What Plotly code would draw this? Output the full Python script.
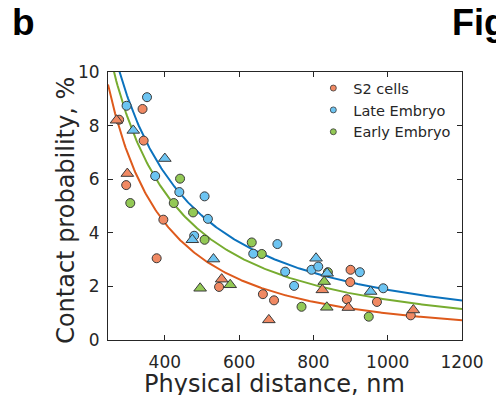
import plotly.graph_objects as go
import numpy as np

# ---- data ----
s2_circ_x = [277, 340, 343, 296, 396, 378, 546, 664, 694, 900, 899, 890, 971, 1062]
s2_circ_y = [8.22, 8.62, 7.44, 5.78, 4.49, 3.05, 1.98, 1.71, 1.48, 2.62, 2.16, 1.52, 1.42, 0.92]
s2_tri_x = [270, 299, 553, 680, 824, 894, 1069]
s2_tri_y = [8.20, 6.21, 2.27, 0.75, 1.87, 1.21, 1.12]

late_circ_x = [352, 297, 374, 439, 507, 516, 479, 703, 638, 724, 748, 795, 813, 925, 988]
late_circ_y = [9.06, 8.74, 6.12, 5.52, 5.36, 4.52, 3.89, 3.58, 3.22, 2.55, 2.02, 2.62, 2.74, 2.53, 1.93]
late_tri_x = [315, 400, 474, 531, 807, 837, 954]
late_tri_y = [7.82, 6.77, 3.74, 3.02, 3.05, 2.49, 1.81]

early_circ_x = [307, 441, 424, 476, 507, 634, 661, 768, 839, 949]
early_circ_y = [5.11, 6.02, 5.11, 4.76, 3.74, 3.64, 3.21, 1.24, 2.53, 0.87]
early_tri_x = [495, 576, 829, 836]
early_tri_y = [1.93, 2.06, 2.18, 1.22]

# power-law fit parameters  y = A * (x/1000)^(-B)
fit_A = {"S2 cells": 0.99, "Late Embryo": 1.87, "Early Embryo": 1.50}
fit_B = {"S2 cells": 1.62, "Late Embryo": 1.31, "Early Embryo": 1.42}

series_names = ["S2 cells", "Late Embryo", "Early Embryo"]
x_ticks = [400, 600, 800, 1000, 1200]
y_ticks = [0, 2, 4, 6, 8, 10]

fill = {"S2 cells": "#F08963", "Late Embryo": "#6CC4F2", "Early Embryo": "#93C955"}
curve = {"S2 cells": "#DE5A1C", "Late Embryo": "#0B72BD", "Early Embryo": "#77AC30"}
edge = "#3a3a3a"

fig = go.Figure()

xfit = np.linspace(247, 1200, 300)
for name in ["S2 cells", "Late Embryo", "Early Embryo"]:
    yfit = fit_A[name] * (xfit / 1000.0) ** (-fit_B[name])
    fig.add_trace(go.Scatter(x=xfit, y=yfit, mode="lines", showlegend=False,
                             line=dict(color=curve[name], width=2), hoverinfo="skip"))

pts = {
    "S2 cells": (s2_circ_x, s2_circ_y, s2_tri_x, s2_tri_y),
    "Late Embryo": (late_circ_x, late_circ_y, late_tri_x, late_tri_y),
    "Early Embryo": (early_circ_x, early_circ_y, early_tri_x, early_tri_y),
}
for name in ["S2 cells", "Early Embryo", "Late Embryo"]:
    cx, cy, tx, ty = pts[name]
    fig.add_trace(go.Scatter(x=cx, y=cy, mode="markers", showlegend=False,
                             marker=dict(symbol="circle", size=9, color=fill[name],
                                         line=dict(color=edge, width=1))))
    fig.add_trace(go.Scatter(x=tx, y=ty, mode="markers", showlegend=False,
                             marker=dict(symbol="triangle-up", size=11, color=fill[name],
                                         line=dict(color=edge, width=1))))

# legend-only entries
for name in series_names:
    fig.add_trace(go.Scatter(x=[None], y=[None], mode="markers", name=name,
                             marker=dict(symbol="circle", size=6, color=fill[name],
                                         line=dict(color=edge, width=0.8))))

axis_common = dict(showgrid=False, zeroline=False, showline=True, linecolor="#262626",
                   linewidth=1, mirror="ticks", ticks="inside", ticklen=5, tickwidth=1,
                   tickcolor="#262626",
                   tickfont=dict(family="DejaVu Sans", size=17, color="#262626"))

fig.update_xaxes(range=[247, 1200], tickvals=x_ticks, ticktext=[str(v) for v in x_ticks],
                 ticklabelstandoff=7, **axis_common)
fig.update_yaxes(range=[0, 10], tickvals=y_ticks, ticktext=[str(v) for v in y_ticks],
                 ticklabelstandoff=4, **axis_common)

fig.update_layout(
    width=496, height=395,
    margin=dict(l=108, r=24, t=72, b=55),
    paper_bgcolor="white", plot_bgcolor="white",
    font=dict(family="DejaVu Sans", color="#262626"),
    legend=dict(x=0.58, y=0.9995, xanchor="left", yanchor="top",
                bgcolor="rgba(0,0,0,0)", borderwidth=0,
                font=dict(family="DejaVu Sans", size=14.5, color="#262626"),
                tracegroupgap=0, itemwidth=30),
    annotations=[
        dict(text="Physical distance, nm", xref="paper", yref="paper", x=0.47, y=-0.104,
             xanchor="center", yanchor="top", showarrow=False,
             font=dict(family="DejaVu Sans", size=24, color="#262626")),
        dict(text="Contact probability, %", xref="paper", yref="paper", x=-0.117, y=0.484,
             xanchor="center", yanchor="middle", textangle=-90, showarrow=False,
             font=dict(family="DejaVu Sans", size=24, color="#262626")),
        dict(text="<b>b</b>", xref="paper", yref="paper", x=-0.276, y=1.27,
             xanchor="left", yanchor="top", showarrow=False,
             font=dict(family="Liberation Sans", size=37, color="black")),
        dict(text="<b>Fig</b>", xref="paper", yref="paper", x=0.967, y=1.27,
             xanchor="left", yanchor="top", showarrow=False,
             font=dict(family="Liberation Sans", size=36, color="black")),
    ],
)

fig.write_html("out.html", config={"displayModeBar": False},
               post_script="document.body.style.margin='0';")
